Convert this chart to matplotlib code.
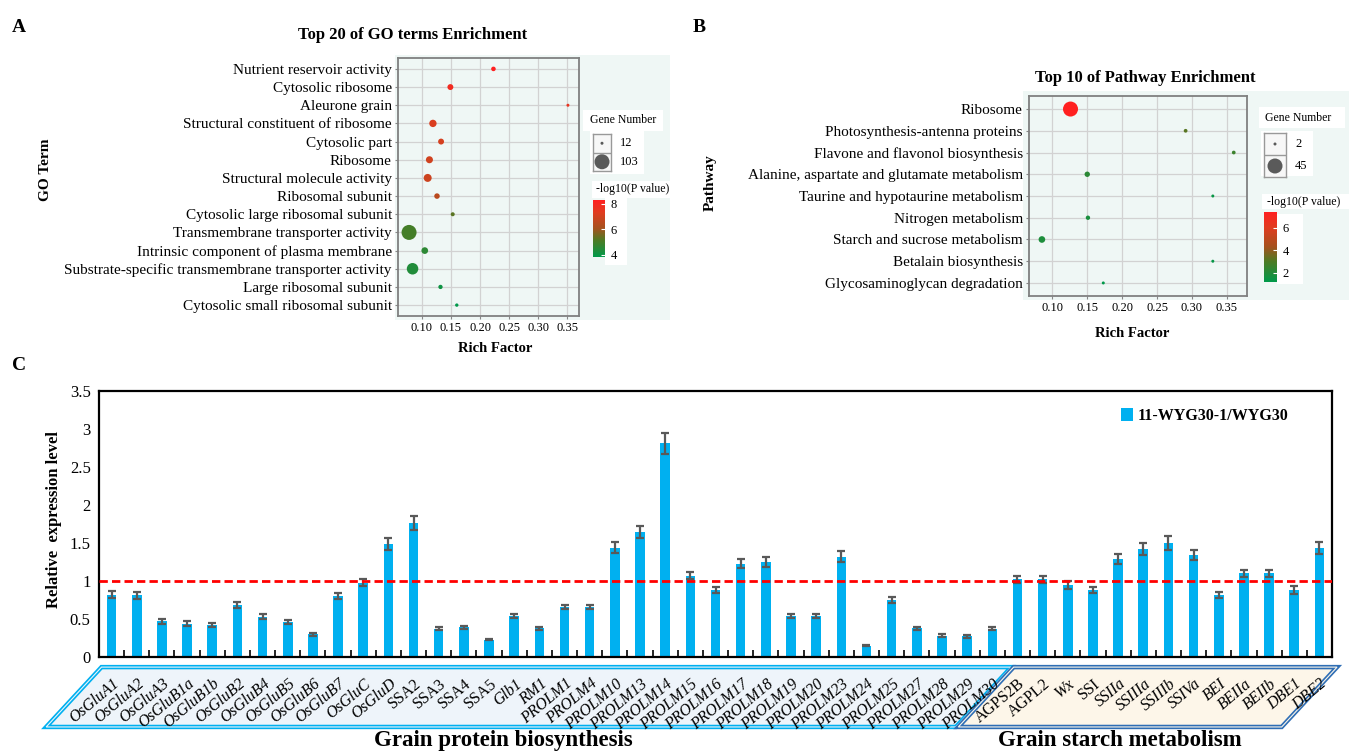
import numpy as np
import matplotlib
matplotlib.use("Agg")
import matplotlib.pyplot as plt
from matplotlib.colors import LinearSegmentedColormap, Normalize
from matplotlib.cm import ScalarMappable
from matplotlib.patches import Rectangle, Polygon

plt.rcParams['font.family'] = ['Liberation Serif', 'DejaVu Serif']

# --- Panel A: GO enrichment ---
go_terms = ['Nutrient reservoir activity', 'Cytosolic ribosome', 'Aleurone grain',
            'Structural constituent of ribosome', 'Cytosolic part', 'Ribosome',
            'Structural molecule activity', 'Ribosomal subunit',
            'Cytosolic large ribosomal subunit', 'Transmembrane transporter activity',
            'Intrinsic component of plasma membrane',
            'Substrate-specific transmembrane transporter activity',
            'Large ribosomal subunit', 'Cytosolic small ribosomal subunit']
go_rich = [0.223, 0.149, 0.351, 0.119, 0.133, 0.113, 0.110, 0.126, 0.153, 0.078, 0.105, 0.084, 0.132, 0.160]
go_genes = [17, 23, 12, 31, 23, 29, 35, 21, 15, 103, 27, 64, 16, 13]
go_logp = [8.31, 7.9, 7.6, 7.2, 7.1, 7.0, 6.9, 6.5, 5.3, 5.0, 4.6, 4.4, 4.1, 3.84]

# --- Panel B: pathway enrichment ---
pw_terms = ['Ribosome', 'Photosynthesis-antenna proteins', 'Flavone and flavonol biosynthesis',
            'Alanine, aspartate and glutamate metabolism', 'Taurine and hypotaurine metabolism',
            'Nitrogen metabolism', 'Starch and sucrose metabolism', 'Betalain biosynthesis',
            'Glycosaminoglycan degradation']
pw_rich = [0.126, 0.291, 0.360, 0.150, 0.330, 0.151, 0.085, 0.330, 0.173]
pw_genes = [45, 3, 3, 6, 2, 4, 9, 2, 2]
pw_logp = [7.42, 3.2, 2.6, 2.2, 1.4, 1.8, 1.9, 1.35, 1.2]

rich_ticks = [0.10, 0.15, 0.20, 0.25, 0.30, 0.35]

# --- Panel C: qRT-PCR ---
protein_genes = ['OsGluA1', 'OsGluA2', 'OsGluA3', 'OsGluB1a', 'OsGluB1b', 'OsGluB2', 'OsGluB4',
                 'OsGluB5', 'OsGluB6', 'OsGluB7', 'OsGluC', 'OsGluD', 'SSA2', 'SSA3', 'SSA4',
                 'SSA5', 'Glb1', 'RM1', 'PROLM1', 'PROLM4', 'PROLM10', 'PROLM13', 'PROLM14',
                 'PROLM15', 'PROLM16', 'PROLM17', 'PROLM18', 'PROLM19', 'PROLM20', 'PROLM23',
                 'PROLM24', 'PROLM25', 'PROLM27', 'PROLM28', 'PROLM29', 'PROLM30']
starch_genes = ['AGPS2B', 'AGPL2', 'Wx', 'SSI', 'SSIIa', 'SSIIIa', 'SSIIIb', 'SSIVa', 'BEI',
                'BEIIa', 'BEIIb', 'DBE1', 'DBE2']
upright_genes = ['SSA2', 'SSA3', 'SSA4', 'SSA5', 'AGPS2B', 'AGPL2', 'SSI']
expr = [0.82, 0.81, 0.47, 0.44, 0.42, 0.68, 0.53, 0.46, 0.30, 0.80, 0.98, 1.49, 1.76, 0.37,
        0.39, 0.23, 0.54, 0.38, 0.66, 0.66, 1.44, 1.64, 2.81, 1.07, 0.88, 1.23, 1.25, 0.54,
        0.54, 1.32, 0.15, 0.75, 0.38, 0.28, 0.27, 0.37,
        1.02, 1.02, 0.95, 0.88, 1.29, 1.42, 1.50, 1.34, 0.81, 1.10, 1.10, 0.88, 1.43]
expr_err = [0.05, 0.05, 0.03, 0.03, 0.03, 0.04, 0.03, 0.03, 0.02, 0.04, 0.05, 0.08, 0.09, 0.02,
            0.02, 0.01, 0.03, 0.02, 0.03, 0.03, 0.07, 0.08, 0.14, 0.05, 0.04, 0.06, 0.06, 0.03,
            0.03, 0.07, 0.01, 0.04, 0.02, 0.02, 0.02, 0.02,
            0.05, 0.05, 0.05, 0.04, 0.07, 0.08, 0.09, 0.07, 0.04, 0.05, 0.05, 0.05, 0.08]
series_name = '11-WYG30-1/WYG30'
y_ticks = [0, 0.5, 1, 1.5, 2, 2.5, 3, 3.5]
y_ticklabels = ['0', '0.5', '1', '1.5', '2', '2.5', '3', '3.5']

# --- Layout (pixel boxes, origin top-left) ---
W, H = 1349, 753
MINT = '#eff7f5'
enrich_cmap = LinearSegmentedColormap.from_list(
    'enrich', [(0.0, '#00994a'), (0.3, '#4f7a23'), (0.5, '#a4521e'), (0.78, '#e03c1f'), (1.0, '#ff2020')])


def box(x0, y0, x1, y1):
    return [x0 / W, 1 - y1 / H, (x1 - x0) / W, (y1 - y0) / H]


def fig_patch(fig, x0, y0, x1, y1, color):
    fig.add_artist(Rectangle((x0 / W, 1 - y1 / H), (x1 - x0) / W, (y1 - y0) / H,
                             transform=fig.transFigure, facecolor=color, edgecolor='none', zorder=-1))


def fig_label(fig, x, y, s, **kw):
    fig.text(x / W, 1 - y / H, s, **kw)


def bubble_size(n, n_rng, d_rng):
    # area grows linearly with gene number, d_rng is the dot diameter range in px
    n = np.asarray(n, float)
    d2 = d_rng[0] ** 2 + (n - n_rng[0]) / (n_rng[1] - n_rng[0]) * (d_rng[1] ** 2 - d_rng[0] ** 2)
    return (0.72 * np.sqrt(d2)) ** 2


def bubble_panel(fig, ax_px, terms, rich, genes, logp, xlim, d_rng, lab_size,
                 key_px, cbar_px, cbar_ticks):
    n_rng = (min(genes), max(genes))
    ax = fig.add_axes(box(*ax_px))
    ax.set_facecolor(MINT)
    ypos = np.arange(len(terms))
    norm = Normalize(min(logp), max(logp))
    ax.scatter(rich, ypos, s=bubble_size(genes, n_rng, d_rng), c=logp, cmap=enrich_cmap,
               norm=norm, edgecolors='none', zorder=3)
    ax.set_xlim(*xlim)
    ax.set_ylim(len(terms) - 0.4, -0.6)
    ax.set_yticks(ypos)
    ax.set_yticklabels(terms, fontsize=lab_size)
    ax.set_xticks(rich_ticks)
    ax.set_xticklabels([f'{v:.2f}' for v in rich_ticks], fontsize=9)
    ax.tick_params(length=2.5, color='#888888', pad=2)
    ax.grid(True, color='#d2d2d2', lw=0.9)
    ax.set_axisbelow(True)
    for sp in ax.spines.values():
        sp.set_color('#808080')
        sp.set_linewidth(1.3)

    # gene number key
    kax = fig.add_axes(box(*key_px))
    kax.set_facecolor('#f7f7f7')
    kax.set_xlim(0, 1)
    kax.set_ylim(0, 1)
    kax.scatter([0.5, 0.5], [0.75, 0.25], s=bubble_size(n_rng, n_rng, d_rng), color='#5a5a5a',
                edgecolors='none')
    kax.axhline(0.5, color='#999999', lw=1)
    kax.set_xticks([])
    kax.set_yticks([])
    for sp in kax.spines.values():
        sp.set_color('#999999')
        sp.set_linewidth(1)
    x_lab = key_px[2] + 9
    y_mid = (key_px[1] + key_px[3]) / 2
    fig_label(fig, x_lab, (key_px[1] + y_mid) / 2, str(n_rng[0]), fontsize=9, va='center')
    fig_label(fig, x_lab, (y_mid + key_px[3]) / 2, str(n_rng[1]), fontsize=9, va='center')

    # p value colour bar
    cax = fig.add_axes(box(*cbar_px))
    cb = fig.colorbar(ScalarMappable(norm=norm, cmap=enrich_cmap), cax=cax)
    cb.outline.set_visible(False)
    cb.set_ticks(cbar_ticks)
    cb.set_ticklabels([str(t) for t in cbar_ticks])
    cax.tick_params(length=3, width=0.8, color='white', direction='in', labelsize=9, pad=4)
    return ax


fig = plt.figure(figsize=(W / 100, H / 100), dpi=100)

# ---------------- A ----------------
fig_patch(fig, 395, 55, 670, 320, MINT)
fig_patch(fig, 583, 110, 663, 131, 'white')
fig_patch(fig, 590, 131, 644, 174, 'white')
fig_patch(fig, 592, 181, 670, 198, 'white')
fig_patch(fig, 605, 198, 627, 265, 'white')
bubble_panel(fig, (398, 58, 579, 316), go_terms, go_rich, go_genes, go_logp,
             (0.059, 0.370), (3, 15), 11, (593, 134, 611, 171), (593, 200, 605, 257), [4, 6, 8])
fig_label(fig, 413, 35, 'Top 20 of GO terms Enrichment', fontsize=12, weight='bold', ha='center', va='center')
fig_label(fig, 590, 120, 'Gene Number', fontsize=8.5, va='center')
fig_label(fig, 596, 189, '-log10(P value)', fontsize=8.5, va='center')
fig_label(fig, 45, 170, 'GO Term', fontsize=11, weight='bold', rotation=90, ha='center', va='center')
fig_label(fig, 495, 349, 'Rich Factor', fontsize=10.5, weight='bold', ha='center', va='center')
fig_label(fig, 19, 27, 'A', fontsize=14, weight='bold', ha='center', va='center')

# ---------------- B ----------------
fig_patch(fig, 1023, 91, 1349, 300, MINT)
fig_patch(fig, 1259, 107, 1345, 128, 'white')
fig_patch(fig, 1261, 131, 1313, 176, 'white')
fig_patch(fig, 1262, 194, 1349, 209, 'white')
fig_patch(fig, 1277, 214, 1303, 284, 'white')
bubble_panel(fig, (1029, 96, 1247, 296), pw_terms, pw_rich, pw_genes, pw_logp,
             (0.0665, 0.379), (3, 15), 11, (1264, 133, 1286, 177), (1264, 212, 1277, 282), [2, 4, 6])
fig_label(fig, 1145, 78, 'Top 10 of Pathway Enrichment', fontsize=12, weight='bold', ha='center', va='center')
fig_label(fig, 1265, 118, 'Gene Number', fontsize=8.5, va='center')
fig_label(fig, 1267, 202, '-log10(P value)', fontsize=8.5, va='center')
fig_label(fig, 710, 183, 'Pathway', fontsize=11, weight='bold', rotation=90, ha='center', va='center')
fig_label(fig, 1132, 333, 'Rich Factor', fontsize=10.5, weight='bold', ha='center', va='center')
fig_label(fig, 699, 27, 'B', fontsize=14, weight='bold', ha='center', va='center')

# ---------------- C ----------------
genes = protein_genes + starch_genes
x = np.arange(len(genes))
ax = fig.add_axes(box(99, 391, 1332, 657))
ax.bar(x, expr, width=0.38, color='#00b0f0', label=series_name, zorder=2)
ax.errorbar(x, expr, yerr=expr_err, fmt='none', ecolor='#595959', elinewidth=1.6,
            capsize=3, capthick=1.6, zorder=3)
ax.axhline(1, color='#ff0000', lw=2, ls=(0, (3, 1.5)), zorder=4)
ax.set_xlim(-0.5, len(genes) - 0.5)
ax.set_ylim(0, 3.5)
ax.set_yticks(y_ticks)
ax.set_yticklabels(y_ticklabels, fontsize=12)
ax.set_xticks(x[:-1] + 0.5)
ax.set_xticklabels([])
ax.tick_params(axis='x', direction='in', length=5, width=1.2)
ax.tick_params(axis='y', length=0, pad=6)
for sp in ax.spines.values():
    sp.set_linewidth(1.6)
ax.legend(loc='center right', bbox_to_anchor=(0.965, 0.906), frameon=False, borderpad=0,
          borderaxespad=0, handlelength=0.7, handleheight=0.9, handletextpad=0.35,
          prop={'weight': 'bold', 'size': 11.5})

trans = ax.get_xaxis_transform()
n_prot = len(protein_genes)
slant = 2.2
top, bottom = -0.038, -0.263
group_boxes = [(-0.4, n_prot - 0.25, '#eef4fa', '#00b0f0'),
               (n_prot - 0.15, len(genes) - 0.3, '#fdf6e9', '#2f6eb5')]
for left, right, fill, edge in group_boxes:
    pts = [(left, top), (right, top), (right - slant, bottom), (left - slant, bottom)]
    ax.add_patch(Polygon(pts, closed=True, transform=trans, facecolor=fill, edgecolor=edge,
                         lw=3.2, clip_on=False, zorder=1))
    ax.add_patch(Polygon(pts, closed=True, transform=trans, facecolor='none', edgecolor=fill,
                         lw=0.8, clip_on=False, zorder=1))

for i, g in enumerate(genes):
    ax.text(i + 0.22, -0.094, g, transform=trans, rotation=40, rotation_mode='anchor',
            ha='right', va='center', fontsize=11.5,
            style='normal' if g in upright_genes else 'italic', clip_on=False, zorder=5)

fig_label(fig, 503, 746, 'Grain protein biosynthesis', fontsize=16.5, weight='bold', ha='center', va='baseline')
fig_label(fig, 1120, 746, 'Grain starch metabolism', fontsize=16.5, weight='bold', ha='center', va='baseline')
fig_label(fig, 54, 520, 'Relative  expression level', fontsize=12, weight='bold', rotation=90,
          ha='center', va='center')
fig_label(fig, 19, 366, 'C', fontsize=14, weight='bold', ha='center', va='center')

fig.savefig('out.png', dpi=100)
